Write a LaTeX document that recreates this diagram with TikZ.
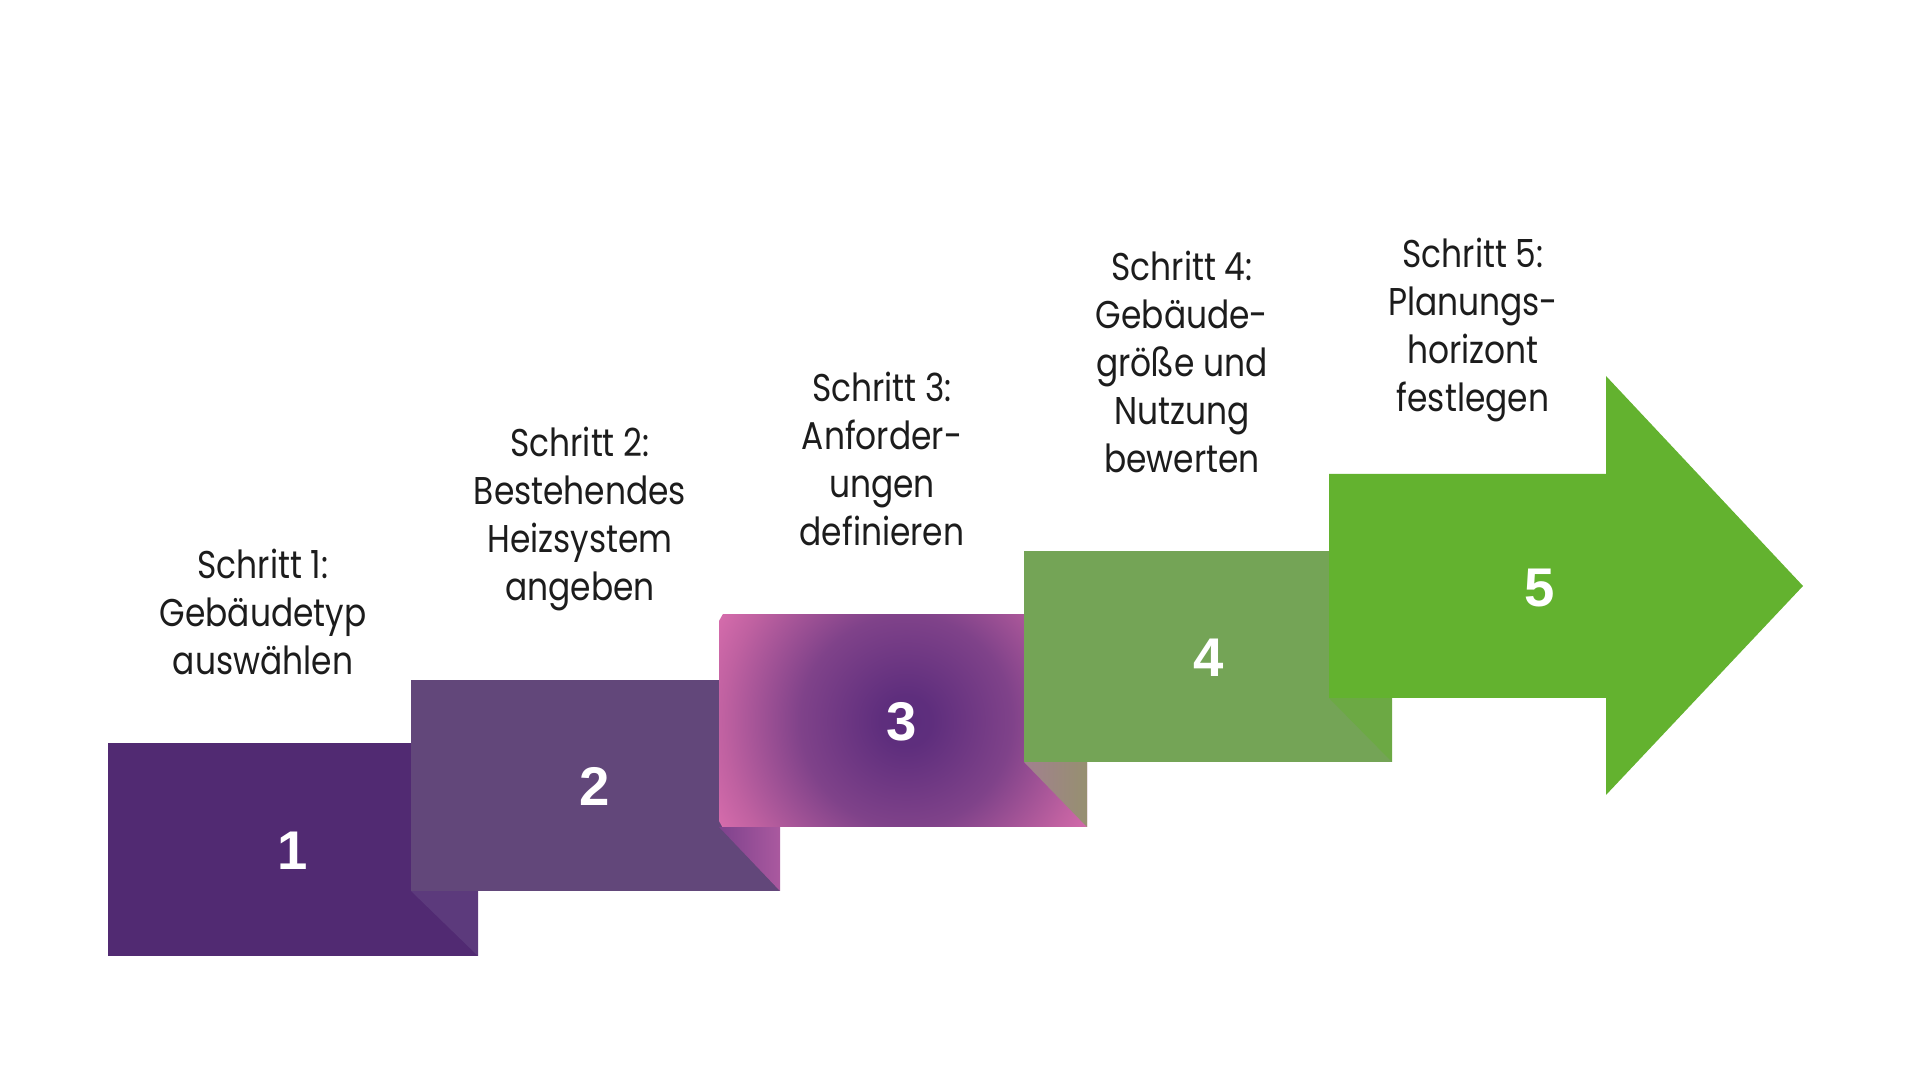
\documentclass[tikz,border=0pt]{standalone}
\usepackage{fontspec}
\setmainfont[FakeStretch=0.85]{Poppins}
\newfontfamily\numfont{Liberation Sans}
\usepackage{xcolor}
\usetikzlibrary{positioning}

\definecolor{stepone}{HTML}{512A72}
\definecolor{steptwo}{HTML}{62477A}
\definecolor{stepfour}{HTML}{74A456}
\definecolor{stepfive}{HTML}{63B22F}
\definecolor{foldone}{HTML}{5C3A7C}
\definecolor{foldtwoleft}{HTML}{7E428D}
\definecolor{foldtworight}{HTML}{AA599F}
\definecolor{foldthreeleft}{HTML}{A2808F}
\definecolor{foldthreeright}{HTML}{969070}
\definecolor{foldfour}{HTML}{6CA944}
\definecolor{labeltext}{HTML}{1C1C1C}

\pgfdeclareradialshading{stepglow}{\pgfpoint{0bp}{0bp}}{%
  rgb(0bp)=(0.357,0.176,0.486);
  rgb(3bp)=(0.37,0.18,0.49);
  rgb(12.5bp)=(0.50,0.26,0.54);
  rgb(21.5bp)=(0.75,0.38,0.63);
  rgb(25bp)=(0.83,0.42,0.67);
  rgb(50bp)=(0.83,0.42,0.67)}

\tikzset{
  steptext/.style={align=center,text=labeltext,font=\fontsize{11}{13.66}\selectfont},
  stepnum/.style={text=white,font=\numfont\bfseries\fontsize{15.5}{18}\selectfont}
}

\begin{document}
\begin{tikzpicture}[x=0.01cm,y=-0.01cm]
        \useasboundingbox (0,0) rectangle (1920,1080);
        % box 1
        \fill[stepone] (108,743) rectangle (478,956);
        \fill[foldone] (411,891) -- (478,891) -- (478,956) -- cycle;
        % box 2
        \fill[steptwo] (411,680) rectangle (780,891);
        \shade[left color=foldtwoleft, right color=foldtworight] (719,827) -- (780,827) -- (780,891) -- cycle;
        % box 3
        \begin{scope}
            \clip (719,615) rectangle (1087,827);
            \shade[shading=stepglow] (906,721) circle (212);
        \end{scope}
        \shade[left color=foldthreeleft, right color=foldthreeright] (1024,762) -- (1087,762) -- (1087,827) -- cycle;
        % box 4
        \fill[stepfour] (1024,551) rectangle (1392,762);
        \fill[foldfour] (1329,698) -- (1392,698) -- (1392,762) -- cycle;
        % arrow 5
        \fill[stepfive] (1329,474) -- (1606,474) -- (1606,376) -- (1803,586) -- (1606,795) -- (1606,698) -- (1329,698) -- cycle;

        \node[stepnum] (n1) at (293,851) {1};
        \node[stepnum] (n2) at (595,786) {2};
        \node[stepnum] (n3) at (902,722) {3};
        \node[stepnum] (n4) at (1209,658) {4};
        \node[stepnum] (n5) at (1540,588) {5};

        \node[steptext] (t1) at (263,612) {Schritt 1:\\Gebäudetyp\\auswählen};
        \node[steptext] (t2) at (580,519) {Schritt 2:\\Bestehendes\\Heizsystem\\angeben};
        \node[steptext] (t3) at (882,459) {Schritt 3:\\Anforder-\\ungen\\definieren};
        \node[steptext] (t4) at (1182,362) {Schritt 4:\\Gebäude-\\größe und\\Nutzung\\bewerten};
        \node[steptext] (t5) at (1473,330) {Schritt 5:\\Planungs-\\horizont\\festlegen};
    \end{tikzpicture}
\end{document}
